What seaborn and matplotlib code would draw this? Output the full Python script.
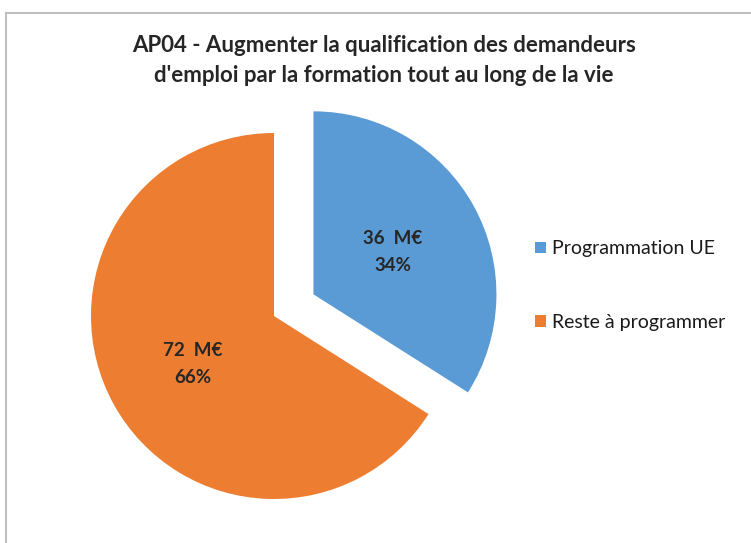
import matplotlib
matplotlib.use("Agg")
import matplotlib.pyplot as plt
import seaborn as sns
from matplotlib.patches import Rectangle

# ---- data ----
categories = ["Programmation UE", "Reste à programmer"]
amounts_meur = [36, 72]
percents = [34, 66]
colors = ["#5B9BD5", "#ED7D31"]
title_lines = ["AP04 - Augmenter la qualification des demandeurs",
               "d'emploi par la formation tout au long de la vie"]

sns.set_theme(style="white")
plt.rcParams['font.family'] = ['Lato', 'DejaVu Sans']

W, H = 751, 543
fig = plt.figure(figsize=(W / 100, H / 100), dpi=100)
fig.patch.set_facecolor("white")
ax = fig.add_axes([0, 0, 1, 1])

# frame of the chart area (cut at right/bottom)
fig.patches.append(Rectangle((6 / W, -0.05), 1.2, (H - 13) / H + 0.05,
                             transform=fig.transFigure, fill=False,
                             edgecolor="#BFBFBF", linewidth=1.5))

cx, cy, r = 274, H - 316, 183
wedges, _ = ax.pie(percents, colors=colors, startangle=90, counterclock=False,
                   explode=[45, 0], center=(cx, cy), radius=r,
                   wedgeprops=dict(linewidth=0))
ax.set_xlim(0, W)
ax.set_ylim(0, H)
ax.set_aspect("auto")
ax.axis("off")

label_pos = [(393, 252), (193, 364)]
for (x, y), amt, pct in zip(label_pos, amounts_meur, percents):
    ax.text(x, H - y, f"{amt}  M€\n{pct}%", ha="center", va="center",
            fontsize=13.5, fontweight="bold", color="#262626", linespacing=1.65)

fig.text(384 / W, 1 - 45 / H, title_lines[0], ha="center", va="center",
         fontsize=16, fontweight="bold", color="#262626")
fig.text(384 / W, 1 - 75 / H, title_lines[1], ha="center", va="center",
         fontsize=16, fontweight="bold", color="#262626")

leg = fig.legend(wedges, categories, loc="center left",
                 bbox_to_anchor=(535 / W, 1 - 285.5 / H), frameon=False,
                 fontsize=14, handlelength=0.55, handleheight=0.55,
                 handletextpad=0.3, labelspacing=2.9, borderaxespad=0,
                 borderpad=0)
for t in leg.get_texts():
    t.set_color("#1a1a1a")

fig.savefig("out.png", dpi=100, facecolor="white")
